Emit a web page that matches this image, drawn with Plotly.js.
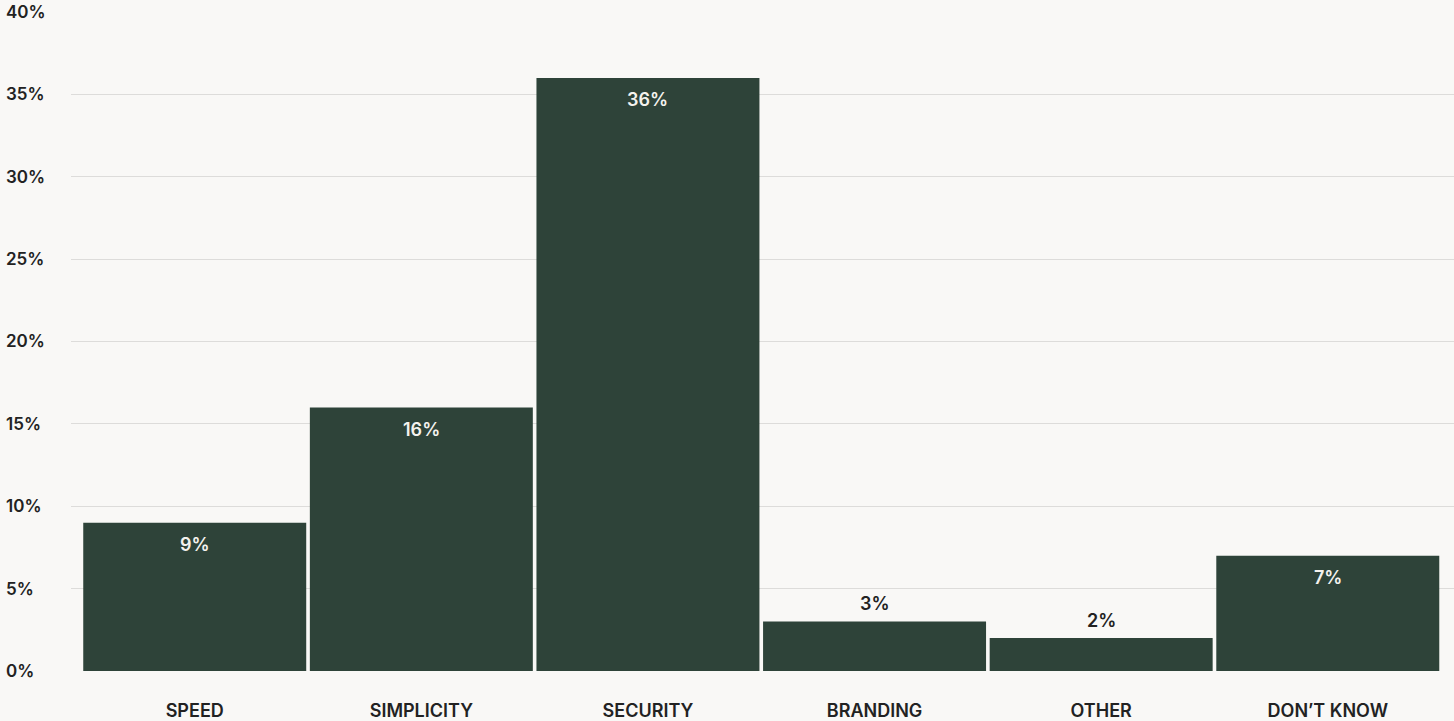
<!DOCTYPE html>
<html>
<head>
<meta charset="utf-8">
<script src="https://cdn.plot.ly/plotly-3.0.1.min.js"></script>
<style>
  html, body { margin: 0; padding: 0; background: #f9f8f6; }
  #chart { width: 1454px; height: 721px; }
</style>
</head>
<body>
<div id="chart"></div>
<script>
// Survey answers: share of respondents per factor (percent)
const categories = ['SPEED', 'SIMPLICITY', 'SECURITY', 'BRANDING', 'OTHER', 'DON’T KNOW'];
const shares = [9, 16, 36, 3, 2, 7];
const yTickValues = [0, 5, 10, 15, 20, 25, 30, 35, 40];
const yTickLabels = ['0%', '5%', '10%', '15%', '20%', '25%', '30%', '35%', '40%'];

const barColor = '#2e4339';
const inkColor = '#222222';
const fontFamily = 'Inter, "Noto Sans", sans-serif';

// Tall bars get their value inside the top edge, short bars just above it
const insideThreshold = 5;
const valueLabels = categories.map((c, i) => {
  const inside = shares[i] >= insideThreshold;
  return {
    x: c,
    y: shares[i],
    xref: 'x',
    yref: 'y',
    text: shares[i] + '%',
    showarrow: false,
    yanchor: 'middle',
    yshift: inside ? -22 : 18,
    font: { family: fontFamily, size: 18, weight: 600, color: inside ? '#f4f2ee' : inkColor }
  };
});

const trace = {
  type: 'bar',
  x: categories,
  y: shares,
  marker: { color: barColor, line: { width: 0 } },
  hoverinfo: 'skip'
};

const layout = {
  width: 1454,
  height: 721,
  paper_bgcolor: '#f9f8f6',
  plot_bgcolor: '#f9f8f6',
  margin: { l: 0, r: 0, t: 12, b: 50 },
  bargap: 0.016,
  showlegend: false,
  font: { family: fontFamily, color: inkColor },
  xaxis: {
    domain: [71 / 1454, 1],
    range: [-0.546, 5.557],
    showgrid: false,
    zeroline: false,
    showline: false,
    ticks: '',
    ticklabelstandoff: 27,
    tickfont: { family: fontFamily, size: 18, weight: 600, color: inkColor },
    fixedrange: true
  },
  yaxis: {
    range: [0, 40],
    anchor: 'free',
    position: 0,
    side: 'right',
    tickmode: 'array',
    tickvals: yTickValues,
    ticktext: yTickLabels,
    showgrid: true,
    gridcolor: '#dddcda',
    gridwidth: 1,
    zeroline: false,
    showline: false,
    ticks: '',
    ticklabelstandoff: 5,
    tickfont: { family: fontFamily, size: 17, weight: 600, color: inkColor },
    fixedrange: true
  },
  annotations: valueLabels
};

Plotly.newPlot('chart', [trace], layout, { displayModeBar: false, staticPlot: true });
</script>
</body>
</html>
